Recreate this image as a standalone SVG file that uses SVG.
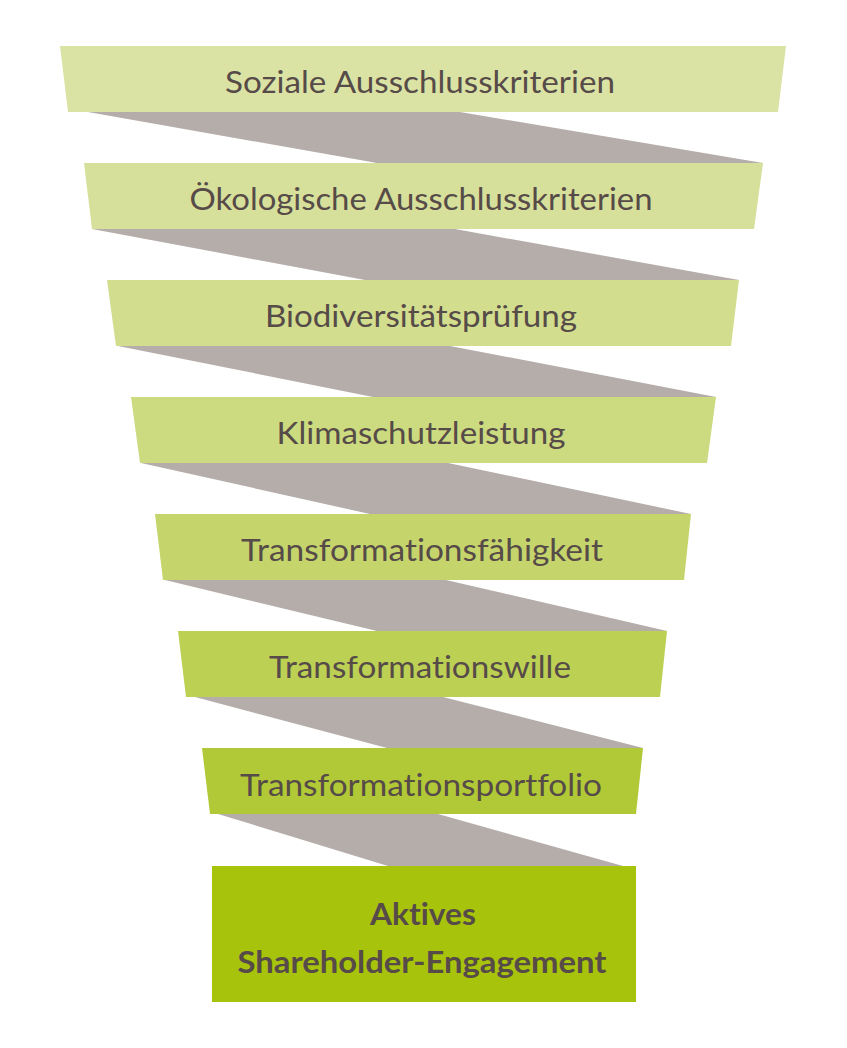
<svg xmlns="http://www.w3.org/2000/svg" width="847" height="1048" viewBox="0 0 847 1048">
<style>
.rib{fill:#b4adaa}
.lbl{font-family:"Lato","Open Sans",sans-serif;font-size:31px;fill:#564b48;text-anchor:middle;font-variant-ligatures:none;font-feature-settings:"liga" 0}
.bold{font-weight:bold}
</style>
<rect width="847" height="1048" fill="#ffffff"/>
<g id="connectors">
<polygon class="rib" points="88,112 460,112 763,163 377,163"/>
<polygon class="rib" points="92,229 455,229 739,280 365,280"/>
<polygon class="rib" points="118,346 450,346 716,397 373,397"/>
<polygon class="rib" points="141,463 448,463 691,514 370,514"/>
<polygon class="rib" points="165,580 446,580 667,631 377,631"/>
<polygon class="rib" points="195,697 443,697 643,748 387,748"/>
<polygon class="rib" points="218,814 438,814 623,866 388,866"/>
</g>
<g id="n1">
<polygon points="60,46 786,46 778,112 68,112" fill="#dbe3a4"/>
<text class="lbl" x="420" y="93" textLength="390" lengthAdjust="spacingAndGlyphs">Soziale Ausschlusskriterien</text>
</g>
<g id="n2">
<polygon points="84,163 763,163 754,229 92,229" fill="#d7e09a"/>
<text class="lbl" x="421" y="210" textLength="463" lengthAdjust="spacingAndGlyphs">Ökologische Ausschlusskriterien</text>
</g>
<g id="n3">
<polygon points="107,280 739,280 731,346 116,346" fill="#d2dd8e"/>
<text class="lbl" x="421" y="327" textLength="312" lengthAdjust="spacingAndGlyphs">Biodiversitätsprüfung</text>
</g>
<g id="n4">
<polygon points="131,397 716,397 707,463 140,463" fill="#ccda80"/>
<text class="lbl" x="421" y="444" textLength="289" lengthAdjust="spacingAndGlyphs">Klimaschutzleistung</text>
</g>
<g id="n5">
<polygon points="155,514 691,514 684,580 163,580" fill="#c5d56c"/>
<text class="lbl" x="422" y="561" textLength="362" lengthAdjust="spacingAndGlyphs">Transformationsfähigkeit</text>
</g>
<g id="n6">
<polygon points="178,631 667,631 660,697 186,697" fill="#bcd054"/>
<text class="lbl" x="420" y="678" textLength="302" lengthAdjust="spacingAndGlyphs">Transformationswille</text>
</g>
<g id="n7">
<polygon points="202,748 643,748 636,814 210,814" fill="#b1c936"/>
<text class="lbl" x="421" y="796" textLength="362" lengthAdjust="spacingAndGlyphs">Transformationsportfolio</text>
</g>
<g id="n8">
<rect x="212" y="866" width="424" height="136" fill="#a8c30b"/>
<text class="lbl bold" x="423" y="925" textLength="106" lengthAdjust="spacingAndGlyphs">Aktives</text>
<text class="lbl bold" x="422" y="973" textLength="369" lengthAdjust="spacingAndGlyphs">Shareholder-Engagement</text>
</g>
</svg>
